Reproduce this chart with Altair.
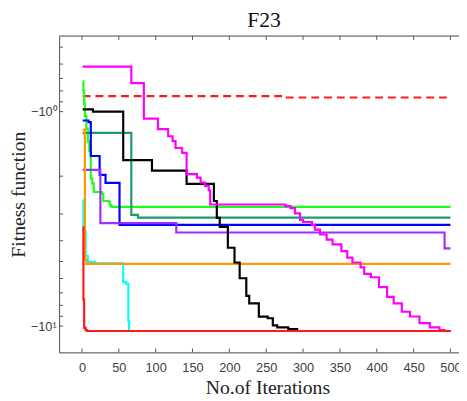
import altair as alt
import pandas as pd

# ---- data (fitness values are negative) ----
red_dash_iter = [1, 272, 500]
red_dash_fit = [-0.847, -0.859, -0.859]

magenta_iter = [1, 67, 84, 103, 117, 123, 127, 136, 142, 156, 161, 167, 172, 174, 276, 283, 289,
                296, 300, 312, 316, 323, 332, 340, 352, 360, 367, 378, 383, 392, 403, 414, 423,
                434, 445, 458, 472, 485, 492, 500]
magenta_fit = [-0.617, -0.736, -1.077, -1.206, -1.302, -1.373, -1.478, -1.558, -1.956, -2.03,
               -2.14, -2.22, -2.33, -2.71, -2.76, -2.82, -2.98, -3.20, -3.27, -3.37, -3.55, -3.74,
               -3.95, -4.16, -4.47, -4.79, -5.05, -5.32, -5.71, -5.92, -6.58, -7.31, -7.84, -8.57,
               -9.02, -9.69, -10.14, -10.43, -10.54, -10.54]

black_iter = [1, 15, 56, 95, 142, 179, 183, 187, 198, 207, 214, 223, 227, 240, 252, 259, 265, 280, 292, 500]
black_fit = [-0.976, -1.0, -1.683, -1.885, -2.17, -2.61, -3.13, -3.45, -4.31, -5.05, -5.98, -7.23,
             -7.84, -9.03, -9.19, -9.93, -10.14, -10.32, -10.54, -10.54]

green_iter = [1, 2, 3, 4, 6, 8, 10, 12, 14, 16, 27, 29, 36, 38, 40, 500]
green_fit = [-0.723, -0.80, -0.92, -1.05, -1.2, -1.38, -1.53, -2.05, -2.16, -2.37, -2.41, -2.61,
             -2.63, -2.73, -2.78, -2.78]

teal_iter = [1, 67, 76, 500]
teal_fit = [-1.257, -3.03, -3.12, -3.12]

blue_iter = [1, 9, 12, 24, 32, 51, 500]
blue_fit = [-1.10, -1.12, -1.61, -1.97, -2.15, -3.37, -3.37]

purple_iter = [1, 25, 128, 492, 500]
purple_fit = [-1.87, -3.31, -3.66, -4.34, -4.34]

cyan_iter = [1, 2, 5, 8, 18, 56, 60, 63, 64, 500]
cyan_fit = [-2.59, -3.6, -4.7, -5.02, -5.1, -6.24, -6.35, -9.48, -10.54, -10.54]

orange_iter = [1, 4, 6, 500]
orange_fit = [-1.213, -4.9, -5.13, -5.13]

red_iter = [1, 2, 3, 5, 7, 500]
red_fit = [-3.46, -7.5, -10.2, -10.45, -10.536, -10.536]

x_ticks = list(range(0, 501, 50))
y_minor = [0.5, 0.6, 0.7, 0.8, 0.9, 1, 2, 3, 4, 5, 6, 7, 8, 9, 10]
y_major = [1, 10]

series = [
    ("red_dash", red_dash_iter, red_dash_fit, "#ff1a1a", [8, 5]),
    ("green", green_iter, green_fit, "#1aff1a", None),
    ("teal", teal_iter, teal_fit, "#1f9a6e", None),
    ("blue", blue_iter, blue_fit, "#0000ff", None),
    ("purple", purple_iter, purple_fit, "#9b30ff", None),
    ("cyan", cyan_iter, cyan_fit, "#00ffff", None),
    ("orange", orange_iter, orange_fit, "#ff9900", None),
    ("black", black_iter, black_fit, "#000000", None),
    ("magenta", magenta_iter, magenta_fit, "#ff00ff", None),
    ("red", red_iter, red_fit, "#ff1a1a", None),
]

W, H = 407, 322
x_scale = alt.Scale(domain=[-31, 511.6], nice=False, zero=False)
y_scale = alt.Scale(type="log", domain=[0.4438, 13.26], reverse=True, nice=False)

x_axis = alt.Axis(values=x_ticks, ticks=False, grid=False, domainColor="#555555",
                  labelFont="Liberation Sans", labelFontSize=13, labelColor="#404040",
                  labelPadding=9, labelFlush=False, labelOverlap=False,
                  title="No.of Iterations", titleFont="Liberation Serif", titleFontSize=20,
                  titleFontWeight="normal", titleColor="#222222", titlePadding=4, titleX=212)
y_axis = alt.Axis(values=y_major, ticks=False, grid=False, domainColor="#555555",
                  labelExpr="datum.value == 1 ? '\u221210\u2070' : '\u221210\u00b9'",
                  labelFont="Liberation Sans", labelFontSize=13, labelColor="#404040",
                  labelPadding=3,
                  title="Fitness function", titleFont="Liberation Serif", titleFontSize=20,
                  titleFontWeight="normal", titleColor="#222222", titlePadding=1)

X = alt.X("iter:Q", scale=x_scale, axis=x_axis)
Y = alt.Y("val:Q", scale=y_scale, axis=y_axis)

layers = []
for name, its, fits, col, dash in series:
    df = pd.DataFrame({"iter": its, "fit": fits})
    df["val"] = -df["fit"]
    kw = dict(color=col, strokeWidth=2.2, interpolate="step-after")
    if dash:
        kw["strokeDash"] = dash
    layers.append(alt.Chart(df).mark_line(**kw).encode(x=X, y=Y))

tick_color = "#555555"
left_ticks = alt.Chart(pd.DataFrame({"val": y_minor})).mark_rule(color=tick_color).encode(
    y=Y, x=alt.value(0), x2=alt.value(4))
top_ticks = alt.Chart(pd.DataFrame({"iter": x_ticks})).mark_rule(color=tick_color).encode(
    x=X, y=alt.value(0), y2=alt.value(4))
bottom_ticks = alt.Chart(pd.DataFrame({"iter": x_ticks})).mark_rule(color=tick_color).encode(
    x=X, y=alt.value(H - 4), y2=alt.value(H))
top_border = alt.Chart(pd.DataFrame({"k": [0]})).mark_rule(color=tick_color).encode(
    x=alt.value(0), x2=alt.value(W), y=alt.value(0))

chart = alt.layer(*layers, left_ticks, top_ticks, bottom_ticks, top_border).properties(
    width=W, height=H,
    autosize=alt.AutoSizeParams(type="none"),
    padding={"left": 52, "top": 25, "right": 0, "bottom": 46},
    title=alt.TitleParams("F23", font="Liberation Serif", fontSize=22, fontWeight="normal",
                          color="#111111", offset=4, dx=5),
).configure_view(stroke=None).configure(background="white")

chart.save("out.html", embed_options={"renderer": "svg", "actions": False})
